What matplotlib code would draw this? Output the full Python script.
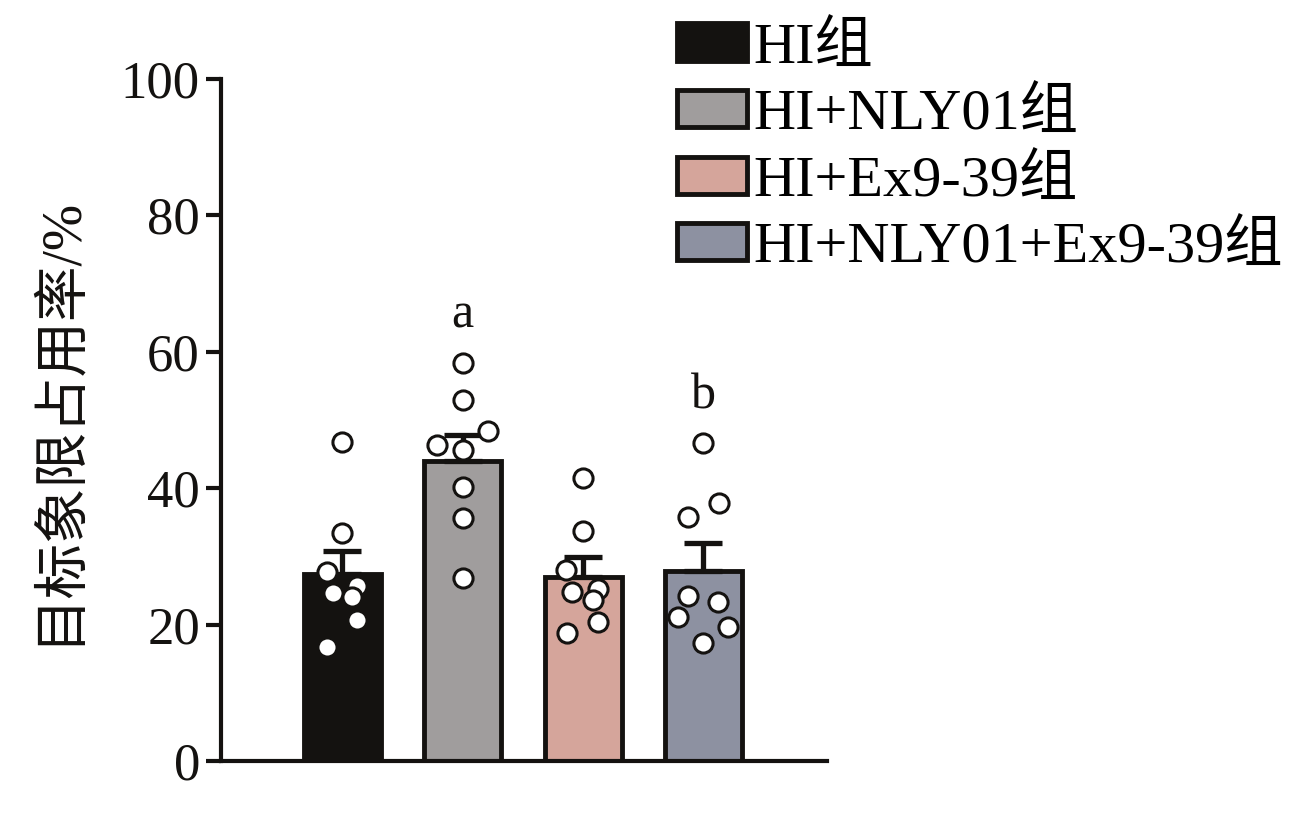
import numpy as np
import matplotlib
matplotlib.use("Agg")
import matplotlib.pyplot as plt
from matplotlib.patches import Patch

plt.rcParams['font.family'] = ['Liberation Serif', 'Noto Sans CJK SC']

groups = ["HI组", "HI+NLY01组", "HI+Ex9-39组", "HI+NLY01+Ex9-39组"]
colors = ["#141210", "#a09d9d", "#d5a59b", "#8d91a1"]
means = [27.4, 44.0, 27.0, 27.9]
sems = [3.4, 3.8, 2.9, 4.1]

# individual points per group (value, x jitter)
pts = [
    [46.8, 33.4, 27.7, 25.7, 24.6, 24.1, 20.7, 16.7],
    [58.4, 52.9, 48.4, 46.3, 45.6, 40.2, 35.6, 26.8],
    [41.5, 33.7, 28.0, 25.2, 24.8, 23.6, 20.4, 18.8],
    [46.6, 37.8, 35.8, 24.2, 23.3, 21.1, 19.6, 17.3],
]
jit = [
    [0, 0, -0.13, 0.12, -0.08, 0.08, 0.12, -0.13],
    [0, 0, 0.21, -0.21, 0, 0, 0, 0],
    [0, 0, -0.14, 0.12, -0.09, 0.08, 0.12, -0.13],
    [0, 0.13, -0.13, -0.13, 0.12, -0.21, 0.2, 0],
]
sig = {1: ("a", 63.5), 3: ("b", 51.7)}

fig = plt.figure(figsize=(12.99, 8.35), dpi=100)
ax = fig.add_axes([0.170, 0.0886, 0.467, 0.8168])

x = np.arange(len(groups))
ax.bar(x, means, width=0.64, color=colors, edgecolor="#141210", linewidth=3.5, zorder=2)
ax.errorbar(x, means, yerr=[np.zeros(4), sems], fmt="none", ecolor="#141210",
            elinewidth=3.8, capsize=14, capthick=3.8, zorder=3)
for i in range(len(groups)):
    ax.scatter(x[i] + np.array(jit[i]), pts[i], s=190, facecolor="white",
               edgecolor="#141210", linewidth=2.2, zorder=4)
for i, (lab, yy) in sig.items():
    ax.text(x[i], yy, lab, ha="center", va="baseline", fontsize=36, color="#141210")

ax.set_ylim(0, 100)
ax.set_xlim(-1.01, 4.03)
ax.set_yticks([0, 20, 40, 60, 80, 100])
ax.set_xticks([])
for s in ["top", "right"]:
    ax.spines[s].set_visible(False)
for s in ["left", "bottom"]:
    ax.spines[s].set_linewidth(3)
    ax.spines[s].set_color("#141210")
ax.tick_params(axis="y", direction="out", length=11, width=3, labelsize=38,
               color="#141210", labelcolor="#141210", pad=4)
ax.set_ylabel("目标象限占用率/%", fontsize=40, color="#141210", labelpad=26)

handles = [Patch(facecolor=c, edgecolor="#141210", linewidth=3.5) for c in colors]
fig.legend(handles, groups, loc="upper left", bbox_to_anchor=(0.521, 0.973),
           frameon=False, fontsize=42, handlelength=1.2, handleheight=0.6,
           labelspacing=0.25, handletextpad=0.12, borderpad=0, borderaxespad=0)

fig.savefig("out.png", dpi=100)
